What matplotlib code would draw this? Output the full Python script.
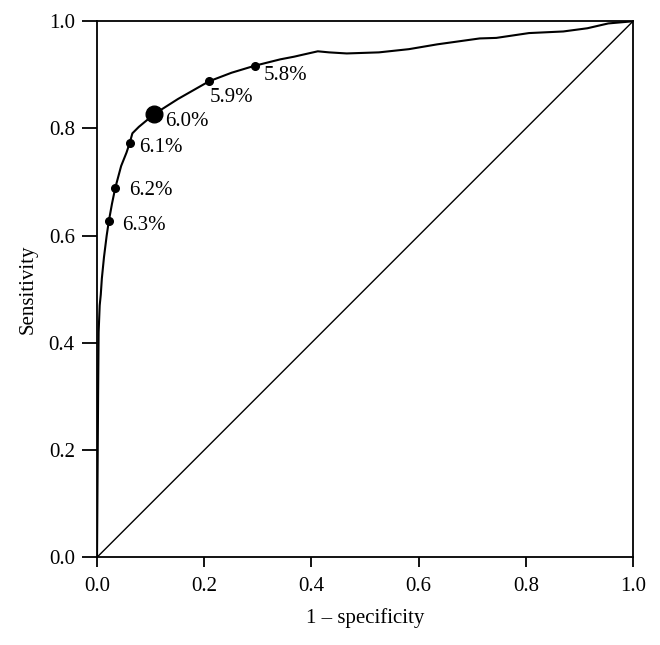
import matplotlib
matplotlib.use('Agg')
import matplotlib.pyplot as plt

# ROC curve
fpr = [0.0, 0.001, 0.002, 0.003, 0.005, 0.007, 0.009, 0.013, 0.018, 0.022,
       0.028, 0.034, 0.045, 0.055, 0.061, 0.066, 0.078, 0.107, 0.151, 0.209,
       0.251, 0.294, 0.342, 0.368, 0.381, 0.412, 0.433, 0.466, 0.526, 0.582,
       0.635, 0.714, 0.745, 0.806, 0.870, 0.915, 0.954, 1.0]
tpr = [0.0, 0.15, 0.30, 0.42, 0.47, 0.49, 0.52, 0.56, 0.60, 0.627,
       0.66, 0.689, 0.73, 0.755, 0.773, 0.791, 0.803, 0.827, 0.855, 0.888,
       0.904, 0.917, 0.929, 0.934, 0.937, 0.944, 0.942, 0.940, 0.942, 0.948,
       0.957, 0.968, 0.969, 0.978, 0.981, 0.987, 0.996, 1.0]

# cut-off points
cut_fpr = [0.022, 0.034, 0.061, 0.107, 0.209, 0.294]
cut_tpr = [0.627, 0.689, 0.773, 0.827, 0.888, 0.917]
cut_labels = ['6.3%', '6.2%', '6.1%', '6.0%', '5.9%', '5.8%']

ticks = [0.0, 0.2, 0.4, 0.6, 0.8, 1.0]

plt.rcParams['font.family'] = ['Liberation Serif', 'DejaVu Serif']

fig = plt.figure(figsize=(6.6, 6.45), dpi=100)
ax = fig.add_axes([0.147, 0.136, 0.812, 0.831])

ax.plot([0, 1], [0, 1], color='black', lw=1.0)
ax.plot(fpr, tpr, color='black', lw=1.5)

offsets = [(13, -4), (14, -3), (9, -5), (11, -7), (1, -16), (9, -10)]
for i, (x, y, lab) in enumerate(zip(cut_fpr, cut_tpr, cut_labels)):
    ms = 12 if lab == '6.0%' else 5.5
    ax.plot(x, y, 'o', color='black', ms=ms)
    ax.annotate(lab, (x, y), xytext=offsets[i], textcoords='offset pixels',
                ha='left', va='center', fontsize=15)

ax.set_xlim(0, 1)
ax.set_ylim(0, 1)
ax.set_xticks(ticks)
ax.set_yticks(ticks)
ax.set_xticklabels([f'{t:.1f}' for t in ticks])
ax.set_yticklabels([f'{t:.1f}' for t in ticks])
ax.tick_params(axis='x', length=7, width=1.3, labelsize=15, pad=7)
ax.tick_params(axis='y', length=11, width=1.3, labelsize=15, pad=5)
for s in ax.spines.values():
    s.set_linewidth(1.3)

ax.set_xlabel('1 \u2013 specificity', fontsize=15, labelpad=9)
ax.set_ylabel('Sensitivity', fontsize=15, labelpad=8)

fig.savefig('out.png', dpi=100)
